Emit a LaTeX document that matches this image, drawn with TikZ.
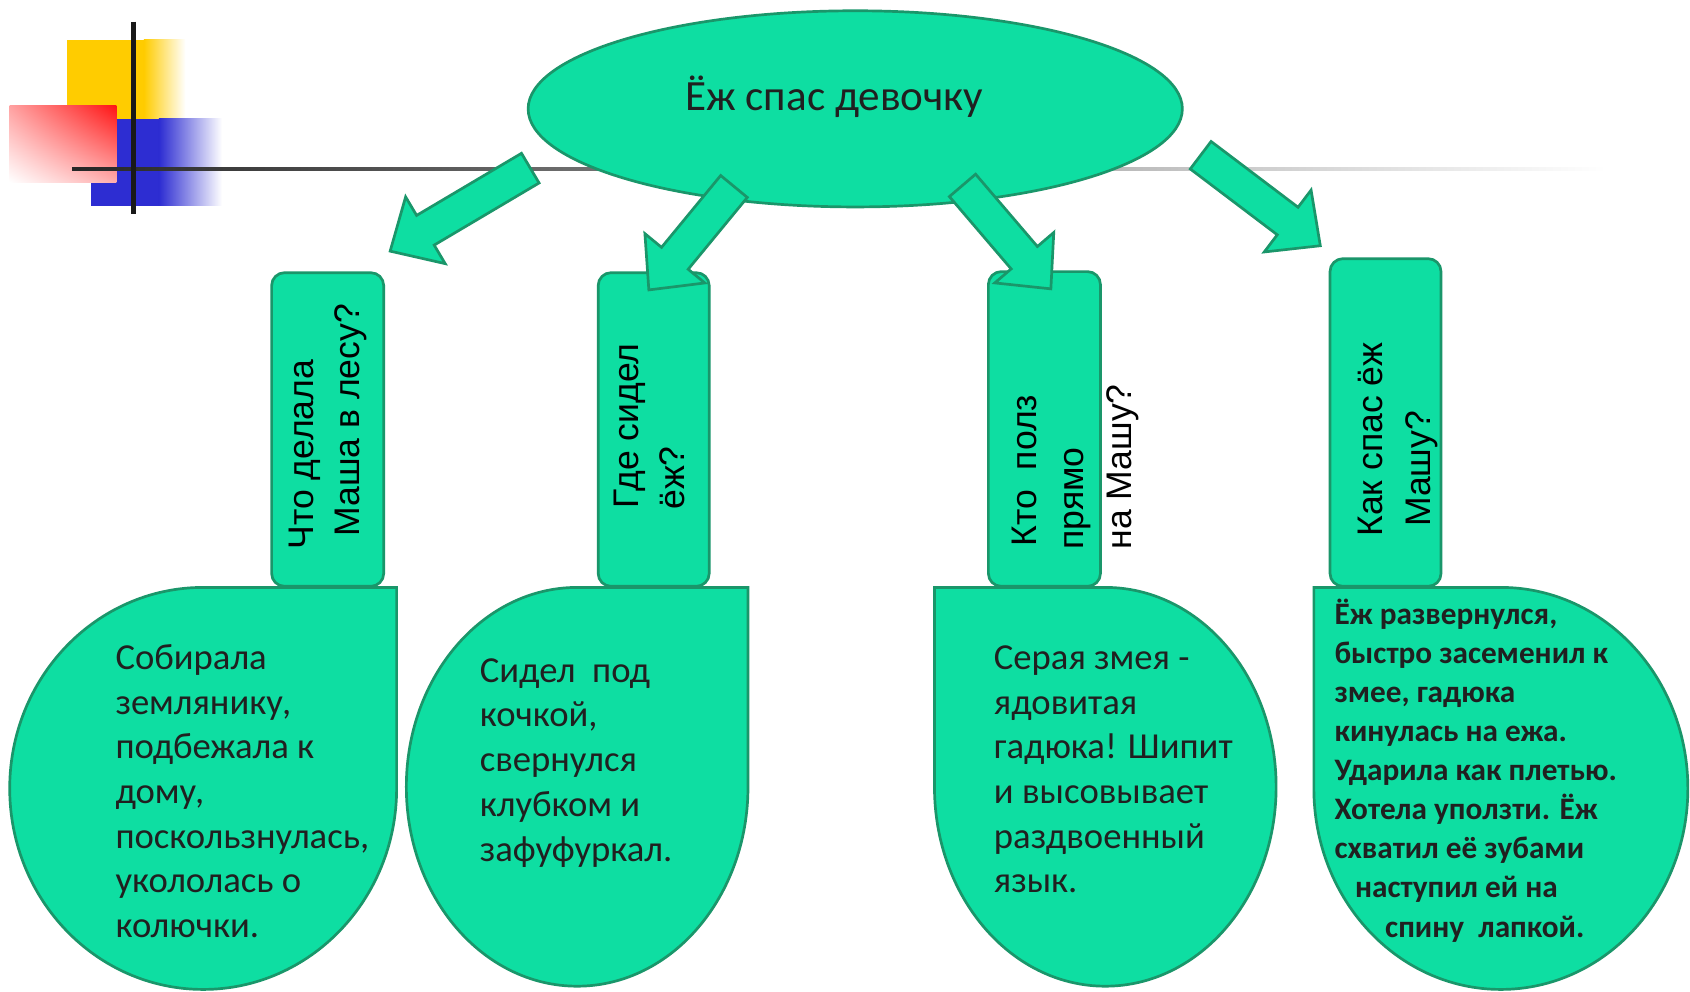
\documentclass[tikz,border=0pt]{standalone}
\usepackage{fontspec}
\setmainfont{Carlito}
\newfontfamily\arialf{Liberation Sans}
\usetikzlibrary{calc,shapes.geometric,shadings}
\definecolor{mint}{RGB}{14,222,162}
\definecolor{mintdark}{RGB}{26,150,106}
\definecolor{txt}{RGB}{32,32,32}
\definecolor{decoyellow}{RGB}{255,204,0}
\definecolor{decoblue}{RGB}{45,45,210}
\definecolor{decored}{RGB}{255,20,20}
\newcommand\blkarrow[3]{%
  \coordinate (#1t) at #2;
  \coordinate (#1h) at #3;
  \coordinate (#1b) at ($(#1h)!38pt!(#1t)$);
  \draw[shapefill, line join=miter]
    ($(#1t)!16pt!90:(#1h)$) -- ($(#1b)!16pt!90:(#1h)$) -- ($(#1b)!36pt!90:(#1h)$)
    -- (#1h) -- ($(#1b)!36pt!-90:(#1h)$) -- ($(#1b)!16pt!-90:(#1h)$)
    -- ($(#1t)!16pt!-90:(#1h)$) -- cycle;}
\begin{document}
\begin{tikzpicture}[x=1pt,y=-1pt,
  shapefill/.style={fill=mint, draw=mintdark, line width=2.5pt},
  qbox/.style={shapefill, rounded corners=12pt},
  qtext/.style={font=\arialf\fontsize{33}{40}\selectfont, text=black, rotate=90, anchor=base west, inner sep=0pt},
  tdtext/.style={font=\fontsize{34}{41}\selectfont, text=txt, anchor=base west, inner sep=0pt},
  tdbold/.style={font=\fontsize{29}{36}\selectfont\bfseries, text=txt, anchor=base west, inner sep=0pt}]
\useasboundingbox (0,0) rectangle (1568,920);
\fill[white] (0,0) rectangle (1568,920);
% decoration
\fill[decoyellow] (62,37) rectangle (134,110);
\shade[left color=decoyellow, right color=white] (133.5,37) rectangle (172,110);
\fill[decoblue] (84,110) rectangle (148,191);
\shade[left color=decoblue, right color=white] (147.5,110) rectangle (206,191);
\shade[upper left=decored!40!white, upper right=decored, lower left=white, lower right=decored!35!white] (9,98) rectangle (108,169);
\shade[left color=black!85, right color=white] (67,155) rectangle (1490,158.5);
\draw[line width=4pt, black!90] (124,20) -- (124,199);
% top ellipse
\node[shapefill, ellipse, minimum width=607pt, minimum height=182pt, inner sep=0pt] (top) at (793.5,101) {};
\node[font=\fontsize{40}{48}\selectfont, text=txt, inner sep=0pt] (toptext) at (774,90) {Ёж спас девочку};
% question boxes
\draw[qbox] (252,253) rectangle (356,544);
\draw[qbox] (555,253) rectangle (658,544);
\draw[qbox] (917,252) rectangle (1021,544);
\draw[qbox] (1234,240) rectangle (1337,544);
\node[qtext] (q1a) at (291,510) {Что делала};
\node[qtext] (q1b) at (334,498) {Маша в лесу?};
\node[qtext] (q2a) at (592,472) {Где сидел};
\node[qtext] (q2b) at (635,473) {ёж?};
\node[qtext] (q3a) at (962,507) {Кто\ \ полз};
\node[qtext] (q3b) at (1005,510) {прямо};
\node[qtext] (q3c) at (1050,510) {на Машу?};
\node[qtext] (q4a) at (1283,498) {Как спас ёж};
\node[qtext] (q4b) at (1327,489) {Машу?};
% block arrows
\blkarrow{a1}{(492,156)}{(362,233)}
\blkarrow{a2}{(681,173)}{(602,269)}
\blkarrow{a3}{(893,172)}{(975,268)}
\blkarrow{a4}{(1114,144)}{(1225,228)}
% answer teardrops
\draw[shapefill] (188.5,545) -- (368,545) -- (368,731.5) arc[start angle=0, end angle=270, x radius=179.5, y radius=186.5] -- cycle;
\draw[shapefill] (535.5,545) -- (694,545) -- (694,730) arc[start angle=0, end angle=270, x radius=158.5, y radius=185] -- cycle;
\draw[shapefill] (1025.5,545) -- (867,545) -- (867,730) arc[start angle=180, end angle=-90, x radius=158.5, y radius=185] -- cycle;
\draw[shapefill] (1392.5,545) -- (1219,545) -- (1219,731.5) arc[start angle=180, end angle=-90, x radius=173.5, y radius=186.5] -- cycle;
% answer texts
\foreach \t [count=\i] in {Собирала, {землянику,}, подбежала к, {дому,}, {поскользнулась,}, укололась о, колючки.}
  \node[tdtext] (ta-\i) at (107,{621+41.5*(\i-1)}) {\t};
\foreach \t [count=\i] in {Сидел\ \ под, {кочкой,}, свернулся, клубком и, зафуфуркал.}
  \node[tdtext] (tb-\i) at (445,{633+41.5*(\i-1)}) {\t};
\foreach \t [count=\i] in {Серая змея -, ядовитая, гадюка! Шипит, и высовывает, раздвоенный, язык.}
  \node[tdtext] (tc-\i) at (922,{621+41.5*(\i-1)}) {\t};
\foreach \xx/\t [count=\i] in {1238/{Ёж развернулся,}, 1238/{быстро засеменил к}, 1238/{змее, гадюка}, 1238/{кинулась на ежа.}, 1238/{Ударила как плетью.}, 1238/{Хотела уползти. Ёж}, 1238/{схватил её зубами}, 1257/{наступил ей на}, 1285/{спину\ \ лапкой.}}
  \node[tdbold] (td-\i) at (\xx,{579+36.3*(\i-1)}) {\t};
\end{tikzpicture}
\end{document}
